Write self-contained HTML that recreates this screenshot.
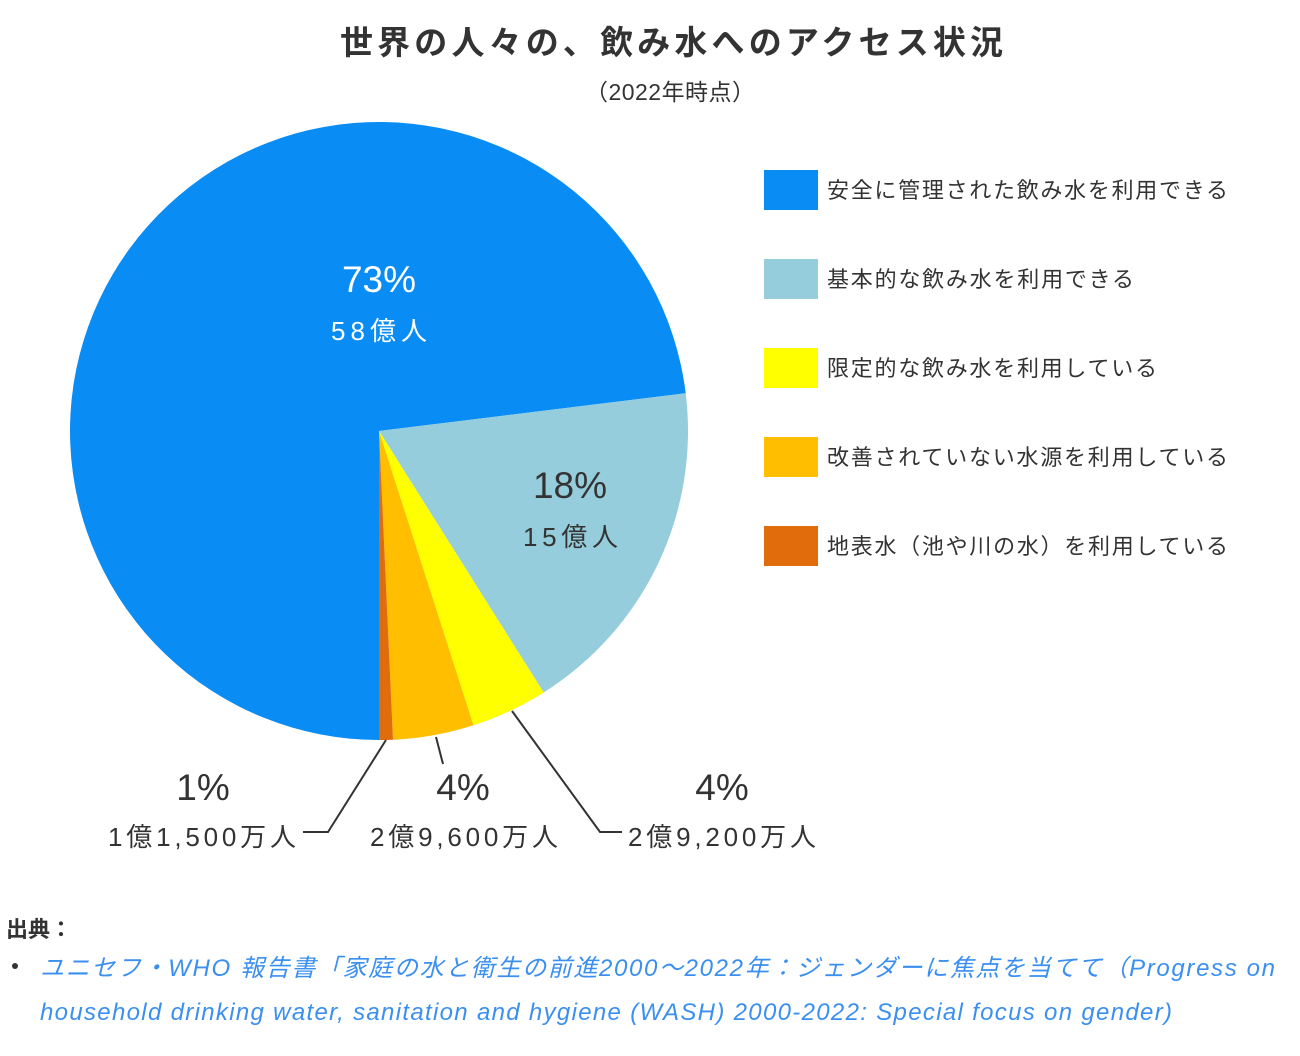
<!DOCTYPE html>
<html><head><meta charset="utf-8"><style>
html,body{margin:0;padding:0;background:#fff;}
body{width:1300px;height:1051px;overflow:hidden;}
svg text{font-family:"Liberation Sans","Noto Sans CJK JP",sans-serif;}
</style></head><body>
<svg width="1300" height="1051" viewBox="0 0 1300 1051" xmlns="http://www.w3.org/2000/svg">
<text x="340" y="54" font-size="33" font-weight="bold" fill="#333" textLength="663" lengthAdjust="spacing">世界の人々の、飲み水へのアクセス状況</text>
<text x="585" y="100" font-size="23" fill="#333" textLength="170" lengthAdjust="spacing">（2022年時点）</text>
<path d="M379,431 L379,740 A309,309 0 1 1 685.7,393.3 Z" fill="#0a8cf5"/>
<path d="M379,431 L685.7,393.3 A309,309 0 0 1 543.7,692.5 Z" fill="#96cddc"/>
<path d="M379,431 L543.7,692.5 A309,309 0 0 1 473.5,725.2 Z" fill="#ffff00"/>
<path d="M379,431 L473.5,725.2 A309,309 0 0 1 393,739.7 Z" fill="#ffbf00"/>
<path d="M379,431 L393,739.7 A309,309 0 0 1 379,740 Z" fill="#e06c0c"/>
<g stroke="#333" stroke-width="2" fill="none">
<polyline points="386,740 328,832 303,832"/>
<polyline points="436,737 443,764"/>
<polyline points="512,711 600,832 622,832"/>
</g>
<text x="379" y="292" text-anchor="middle" font-size="37" fill="#fff">73%</text>
<text x="331" y="340" font-size="26" fill="#fff" textLength="96" lengthAdjust="spacing">58億人</text>
<text x="570" y="498" text-anchor="middle" font-size="37" fill="#333">18%</text>
<text x="523" y="546" font-size="26" fill="#333" textLength="95" lengthAdjust="spacing">15億人</text>
<g fill="#333">
<text x="203" y="800" font-size="37" text-anchor="middle">1%</text>
<text x="108" y="846" font-size="26" textLength="188" lengthAdjust="spacing">1億1,500万人</text>
<text x="463" y="800" font-size="37" text-anchor="middle">4%</text>
<text x="370" y="846" font-size="26" textLength="188" lengthAdjust="spacing">2億9,600万人</text>
<text x="722" y="800" font-size="37" text-anchor="middle">4%</text>
<text x="628" y="846" font-size="26" textLength="188" lengthAdjust="spacing">2億9,200万人</text>
</g>
<rect x="764" y="170" width="54" height="40" fill="#0a8cf5"/>
<rect x="764" y="259" width="54" height="40" fill="#96cddc"/>
<rect x="764" y="348" width="54" height="40" fill="#ffff00"/>
<rect x="764" y="437" width="54" height="40" fill="#ffbf00"/>
<rect x="764" y="526" width="54" height="40" fill="#e06c0c"/>
<g font-size="22" fill="#333">
<text x="827" y="198" textLength="401" lengthAdjust="spacing">安全に管理された飲み水を利用できる</text>
<text x="827" y="287" textLength="307" lengthAdjust="spacing">基本的な飲み水を利用できる</text>
<text x="827" y="376" textLength="330" lengthAdjust="spacing">限定的な飲み水を利用している</text>
<text x="827" y="465" textLength="401" lengthAdjust="spacing">改善されていない水源を利用している</text>
<text x="827" y="554" textLength="401" lengthAdjust="spacing">地表水（池や川の水）を利用している</text>
</g>
<text x="6" y="937" font-size="22" font-weight="bold" fill="#333">出典：</text>
<circle cx="15" cy="966" r="3" fill="#333"/>
<g font-size="24" font-style="italic" fill="#3a8ff0">
<text x="40" y="976" textLength="1235" lengthAdjust="spacing">ユニセフ・WHO 報告書「家庭の水と衛生の前進2000〜2022年：ジェンダーに焦点を当てて（Progress on</text>
<text x="40" y="1020" textLength="1132" lengthAdjust="spacing">household drinking water, sanitation and hygiene (WASH) 2000-2022: Special focus on gender)</text>
</g>
</svg>
</body></html>
